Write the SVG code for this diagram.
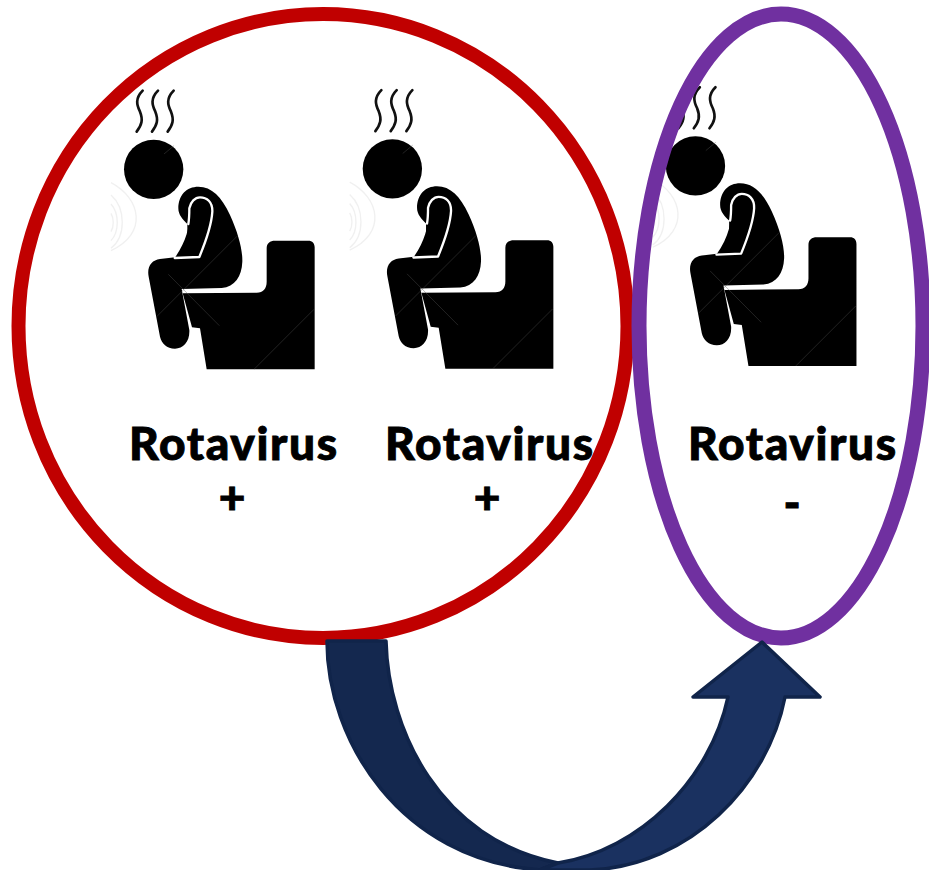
<svg xmlns="http://www.w3.org/2000/svg" width="929" height="870" viewBox="0 0 929 870">
<style>
.lbl{font-family:"Lato","Liberation Sans",sans-serif;font-weight:900;font-size:46px;fill:#000;stroke:#000;stroke-width:.9;text-anchor:middle}
.steam{fill:none;stroke:#111;stroke-width:8;stroke-linecap:round}
.wave{fill:none;stroke:#f0f0f0;stroke-width:4}
.mark{fill:none;stroke:#555;stroke-width:2}
</style>
<defs>
<g id="person" transform="translate(100 80) scale(.33333)">
<path class="wave" d="M33 400C42 415 42 440 33 455M33 372C58 400 58 455 33 482M33 345C78 385 78 470 33 505M33 308C122 355 145 460 33 512"/>
<path class="steam" d="M128 32C105 55 110 75 120 95C130 120 125 135 110 155M174 32C151 55 156 75 166 95C176 120 171 135 156 155M221 32C198 55 203 75 213 95C223 120 218 135 203 155"/>
<circle cx="161" cy="268" r="89" fill="#000"/>
<path d="M235 385C235 345 260 320 295 320C335 320 365 350 390 405C415 460 428 510 427 545C425 590 405 620 365 624L245 627L268 750C270 785 250 806 225 806C200 806 185 790 180 770L146 590C140 560 155 540 180 537L232 531L262 480L262 432C248 418 235 405 235 385Z" fill="#000"/>
<path d="M224 534L298 531C315 490 335 430 337 395C338 365 320 352 300 352C285 352 272 365 268 385C272 430 262 480 224 534Z" fill="#000"/>
<path d="M224 534L298 531C315 490 335 430 337 395C338 365 320 352 300 352C285 352 272 365 268 385C268 400 268 415 265 432" fill="none" stroke="#fff" stroke-width="7" stroke-linejoin="round" stroke-linecap="round"/>
<path d="M248 640L470 638C490 638 500 625 500 605L500 505C500 490 510 482 525 482L625 482C637 482 644 490 644 502L644 868L320 868L300 745L276 742Z" fill="#000"/>
<path class="mark" d="M170 710L412 468M205 583L358 737M462 868L642 688M192 222L222 197" opacity=".6"/>
</g>
</defs>
<rect width="929" height="870" fill="#fff"/>
<g id="person-1"><use href="#person"/></g>
<g id="person-2"><use href="#person" x="238.7" y="-0.5"/></g>
<g id="person-3"><use href="#person" x="541.8" y="-3.4"/></g>
<g id="circle-positive"><ellipse cx="323" cy="326" rx="304.5" ry="312" fill="none" stroke="#c00000" stroke-width="14"/></g>
<g id="ellipse-negative"><ellipse cx="781" cy="326" rx="142" ry="312" fill="none" stroke="#7030a0" stroke-width="15"/></g>
<g id="connectors">
<path d="M327 641L386 641C388 730 440 840 558 863L540 870C400 860 327 740 327 641Z" fill="#14284f" stroke="#10244a" stroke-width="3.5" stroke-linejoin="round"/>
<path d="M558 863C640 850 710 780 728 697L693 697L762 642L820 697L785 697C768 785 690 866 590 870L540 870Z" fill="#1a3160" stroke="#10244a" stroke-width="3.5" stroke-linejoin="round"/>
</g>
<g id="label-1"><text class="lbl" x="233" y="460" textLength="208">Rotavirus</text><text class="lbl" x="232" y="514">+</text></g>
<g id="label-2"><text class="lbl" x="489" y="460" textLength="208">Rotavirus</text><text class="lbl" x="487" y="514">+</text></g>
<g id="label-3"><text class="lbl" x="792" y="460" textLength="208">Rotavirus</text><text class="lbl" x="792" y="519">-</text></g>
</svg>
